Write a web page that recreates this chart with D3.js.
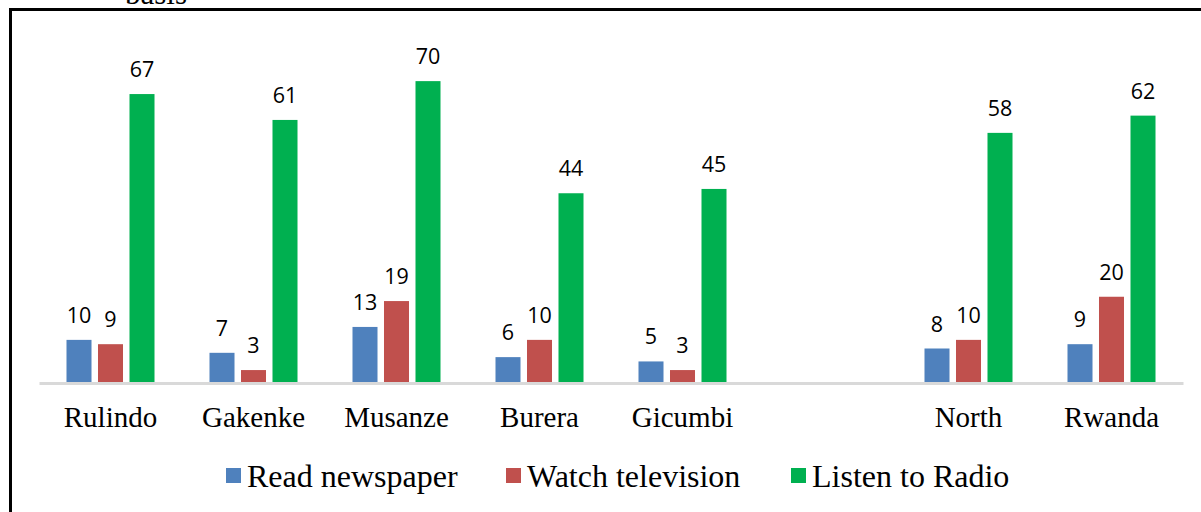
<!DOCTYPE html>
<html>

<head>
    <meta charset="utf-8">
    <script src="https://d3js.org/d3.v7.min.js"></script>

    <style>
        body {
            margin: 0;
            background-color: white;
        }

        .legend text {
            font-family: "Liberation Serif", "Times New Roman", serif;
            font-size: 32px;
            fill: black;
        }

        .value-label {
            font-family: "Open Sans", "Noto Sans", sans-serif;
            font-size: 21.5px;
            fill: black;
        }
    </style>
</head>

<body>

    <script type="text/javascript">
        // data (blank category = gap between Gicumbi and North)
        var categories = ["Rulindo", "Gakenke", "Musanze", "Burera", "Gicumbi", " ", "North", "Rwanda"];
        var seriesNames = ["Read newspaper", "Watch television", "Listen to Radio"];
        var readNewspaper = [10, 7, 13, 6, 5, null, 8, 9];
        var watchTelevision = [9, 3, 19, 10, 3, null, 10, 20];
        var listenRadio = [67, 61, 70, 44, 45, null, 58, 62];
        var colors = ["#4F81BD", "#C0504D", "#00B050"];

        var seriesValues = [readNewspaper, watchTelevision, listenRadio];

        var width = 1201,
            height = 512;

        var svg = d3.select("body")
            .append("svg")
            .attr("width", width)
            .attr("height", height);

        // frame, cut off at the right and bottom like the source image
        svg.append("path")
            .attr("d", "M10.5,512 L10.5,9.5 L1201,9.5")
            .attr("fill", "none")
            .attr("stroke", "black")
            .attr("stroke-width", 3);

        // piece of a caption sitting above the frame (clipped in the source too)
        svg.append("text")
            .attr("x", 125)
            .attr("y", 4)
            .style("font-family", "Liberation Serif, serif")
            .style("font-size", "31px")
            .text("basis");

        /*
          scales
        */
        var x = d3.scaleBand()
            .domain(categories)
            .range([39, 1183])
            .paddingInner(0)
            .paddingOuter(0);

        var xInner = d3.scaleBand()
            .domain(seriesNames)
            .range([-47.25, 47.25])
            .paddingInner(0.206)
            .paddingOuter(0.103);

        var y = d3.scaleLinear()
            .domain([0, 80])
            .range([383, 38]);

        // flatten into rows for the bars
        var rows = [];
        categories.forEach(function(c, i) {
            seriesNames.forEach(function(s, j) {
                if (seriesValues[j][i] != null) {
                    rows.push({ cat: c, series: s, value: seriesValues[j][i], color: colors[j] });
                }
            });
        });

        var center = function(d) {
            return x(d.cat) + x.bandwidth() / 2;
        };

        // bars
        svg.selectAll("rect.bar")
            .data(rows)
            .enter()
            .append("rect")
            .attr("class", "bar")
            .attr("x", function(d) { return center(d) + xInner(d.series); })
            .attr("y", function(d) { return y(d.value); })
            .attr("width", xInner.bandwidth())
            .attr("height", function(d) { return y(0) - y(d.value); })
            .attr("fill", function(d) { return d.color; });

        // value labels
        svg.selectAll("text.value-label")
            .data(rows)
            .enter()
            .append("text")
            .attr("class", "value-label")
            .attr("x", function(d) { return center(d) + xInner(d.series) + xInner.bandwidth() / 2; })
            .attr("y", function(d) { return y(d.value) - 17; })
            .attr("text-anchor", "middle")
            .text(function(d) { return d.value; });

        // baseline axis
        var xAxis = d3.axisBottom(x).tickSize(0).tickPadding(0);
        var axisG = svg.append("g")
            .attr("transform", "translate(0," + y(0) + ")")
            .call(xAxis);
        axisG.select(".domain")
            .attr("stroke", "#D9D9D9")
            .attr("stroke-width", 3);
        axisG.selectAll(".tick text")
            .attr("dy", null)
            .attr("y", 44)
            .style("font-family", "Liberation Serif, serif")
            .style("font-size", "29px")
            .attr("fill", "black");

        /*
          legend
        */
        var legendX = [226, 506, 791];
        var legend = svg.append("g").attr("class", "legend");
        var items = legend.selectAll("g")
            .data(seriesNames)
            .enter()
            .append("g")
            .attr("transform", function(d, i) { return "translate(" + legendX[i] + ",0)"; });
        items.append("rect")
            .attr("x", 0)
            .attr("y", 468)
            .attr("width", 15)
            .attr("height", 15)
            .attr("fill", function(d, i) { return colors[i]; });
        items.append("text")
            .attr("x", 21)
            .attr("y", 487)
            .text(function(d) { return d; });
    </script>
</body>

</html>
